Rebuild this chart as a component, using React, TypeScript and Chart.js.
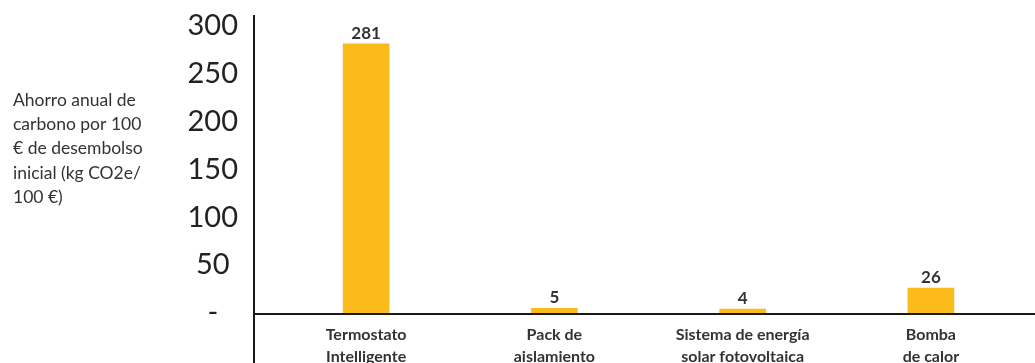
import { useEffect, useRef } from "react";
import { Chart, registerables } from "chart.js";

Chart.register(...registerables);

const categories: string[][] = [
  ["Termostato", "Intelligente"],
  ["Pack de", "aislamiento"],
  ["Sistema de energía", "solar fotovoltaica"],
  ["Bomba", "de calor"],
];
const savings: number[] = [281, 5, 4, 26];
const tickValues: number[] = [0, 50, 100, 150, 200, 250, 300];
const tickLabels: string[] = ["-", "50", "100", "150", "200", "250", "300"];
const yTitleLines: string[] = [
  "Ahorro anual de",
  "carbono por 100",
  "€ de desembolso",
  "inicial (kg CO2e/",
  "100 €)",
];

const BAR_COLOR = "#FBBC1B";
const TEXT_DARK = "#333333";

const decorPlugin = {
  id: "decor",
  afterDraw(chart: any) {
    const { ctx, chartArea, width, height } = chart;
    ctx.save();
    // axis lines
    ctx.strokeStyle = "#1a1a1a";
    ctx.lineWidth = 2;
    const ax = chartArea.left - 18;
    ctx.beginPath();
    ctx.moveTo(ax, chartArea.top);
    ctx.lineTo(ax, height);
    ctx.stroke();
    ctx.beginPath();
    ctx.moveTo(ax, chartArea.bottom + 1);
    ctx.lineTo(width, chartArea.bottom + 1);
    ctx.stroke();

    // y-axis title
    ctx.fillStyle = TEXT_DARK;
    ctx.font = "17.5px Lato";
    ctx.textAlign = "left";
    ctx.textBaseline = "middle";
    yTitleLines.forEach((line, i) => ctx.fillText(line, 13, 100 + i * 24.3));

    // data labels
    const meta = chart.getDatasetMeta(0);
    ctx.font = "bold 17px Lato";
    ctx.textAlign = "center";
    ctx.textBaseline = "bottom";
    ctx.fillStyle = TEXT_DARK;
    meta.data.forEach((bar: any, i: number) => {
      ctx.fillText(String(savings[i]), bar.x, bar.y - 2);
    });
    ctx.restore();
  },
};

export default function App() {
  const canvasRef = useRef<HTMLCanvasElement | null>(null);

  useEffect(() => {
    if (!canvasRef.current) return;
    const chart = new Chart(canvasRef.current, {
      type: "bar",
      data: {
        labels: categories,
        datasets: [
          {
            data: savings,
            backgroundColor: BAR_COLOR,
            borderWidth: 0,
            barThickness: 46,
          },
        ],
      },
      options: {
        responsive: false,
        animation: false,
        layout: { padding: { top: 15, right: 10, left: 0, bottom: 0 } },
        plugins: {
          legend: { display: false },
          tooltip: { enabled: false },
        },
        scales: {
          x: {
            grid: { display: false, drawTicks: false },
            border: { display: false },
            ticks: {
              color: TEXT_DARK,
              padding: 11,
              maxRotation: 0,
              autoSkip: false,
              font: { family: "Lato", size: 16, weight: "bold", lineHeight: 1.35 },
            },
            afterFit: (scale: any) => {
              scale.height = 50;
              scale.paddingLeft = 0;
              scale.paddingRight = 0;
            },
          },
          y: {
            min: 0,
            max: 311,
            grid: { display: false, drawTicks: false },
            border: { display: false },
            afterBuildTicks: (scale: any) => {
              scale.ticks = tickValues.map((v) => ({ value: v }));
            },
            ticks: {
              color: "#222222",
              padding: 34,
              crossAlign: "center",
              font: { family: "Lato", size: 29, weight: "normal" },
              callback: (value: any) => {
                const idx = tickValues.indexOf(Number(value));
                return idx >= 0 ? tickLabels[idx] : "";
              },
            },
            afterFit: (scale: any) => {
              scale.width = 272;
              scale.paddingTop = 0;
              scale.paddingBottom = 0;
            },
          },
        },
      },
      plugins: [decorPlugin],
    });
    return () => chart.destroy();
  }, []);

  return (
    <canvas
      ref={canvasRef}
      width={1035}
      height={363}
      style={{ position: "absolute", left: 0, top: 0, width: 1035, height: 363 }}
    />
  );
}
